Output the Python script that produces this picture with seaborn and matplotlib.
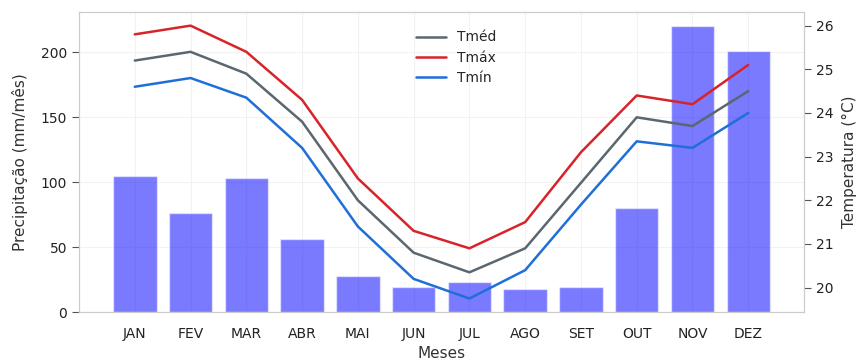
import numpy as np
import pandas as pd
import matplotlib
matplotlib.use('Agg')
import matplotlib.pyplot as plt
import seaborn as sns

# Dados mensais
meses = ['JAN', 'FEV', 'MAR', 'ABR', 'MAI', 'JUN', 'JUL', 'AGO', 'SET', 'OUT', 'NOV', 'DEZ']
precip = [105, 76, 103, 56, 28, 19, 23, 18, 19, 80, 220, 201]
t_med = [25.2, 25.4, 24.9, 23.8, 22.0, 20.8, 20.35, 20.9, 22.4, 23.9, 23.7, 24.5]
t_max = [25.8, 26.0, 25.4, 24.3, 22.5, 21.3, 20.9, 21.5, 23.1, 24.4, 24.2, 25.1]
t_min = [24.6, 24.8, 24.35, 23.2, 21.4, 20.2, 19.75, 20.4, 21.9, 23.35, 23.2, 24.0]

sns.set_style('whitegrid', {
    'axes.edgecolor': '#cccccc',
    'grid.color': '#f2f2f2',
    'xtick.bottom': False,
    'ytick.left': True,
    'ytick.right': True,
})
plt.rcParams['font.family'] = ['DejaVu Sans']
plt.rcParams['ytick.color'] = '#555555'
plt.rcParams['ytick.labelcolor'] = '#222222'
plt.rcParams['xtick.labelcolor'] = '#222222'

df_p = pd.DataFrame({'mes': meses, 'precip': precip})
df_t = pd.DataFrame({'pos': np.arange(len(meses)), 'Tméd': t_med, 'Tmáx': t_max, 'Tmín': t_min})
df_t = df_t.melt(id_vars='pos', var_name='serie', value_name='temp')

fig, ax1 = plt.subplots(figsize=(8.59, 3.63), dpi=100)
fig.subplots_adjust(left=0.092, right=0.936, top=0.967, bottom=0.140)

sns.barplot(data=df_p, x='mes', y='precip', color='#0000ff', alpha=0.52,
            width=0.78, saturation=1, ax=ax1)
ax1.set_xlim(-1, 12)
ax1.set_ylim(0, max(precip) * 1.05)
ax1.set_xlabel('Meses', fontsize=11, color='#333333', labelpad=4)
ax1.set_ylabel('Precipitação (mm/mês)', fontsize=11, color='#333333', labelpad=9)
ax1.tick_params(axis='y', length=5, width=0.8, labelsize=10)
ax1.tick_params(axis='x', labelsize=10, pad=7)
ax1.grid(True, linewidth=0.8)

ax2 = ax1.twinx()
sns.lineplot(data=df_t, x='pos', y='temp', hue='serie', ax=ax2, linewidth=1.8,
             palette={'Tméd': '#5b6770', 'Tmáx': '#d8232a', 'Tmín': '#1f6fd8'})
ax2.grid(False)
ax2.set_xlim(-1, 12)
ax2.set_xlabel('')
ax2.set_ylabel('Temperatura (°C)', fontsize=11, color='#333333', labelpad=6)
ax2.tick_params(axis='y', length=5, width=0.8, labelsize=10, left=False, right=True)
for s in ax2.spines.values():
    s.set_color('#cccccc')
leg = ax2.legend(loc='upper center', frameon=False, fontsize=10, title=None,
                 handlelength=2.2, labelspacing=0.45, bbox_to_anchor=(0.52, 0.98))

fig.savefig('out.png', dpi=100)
